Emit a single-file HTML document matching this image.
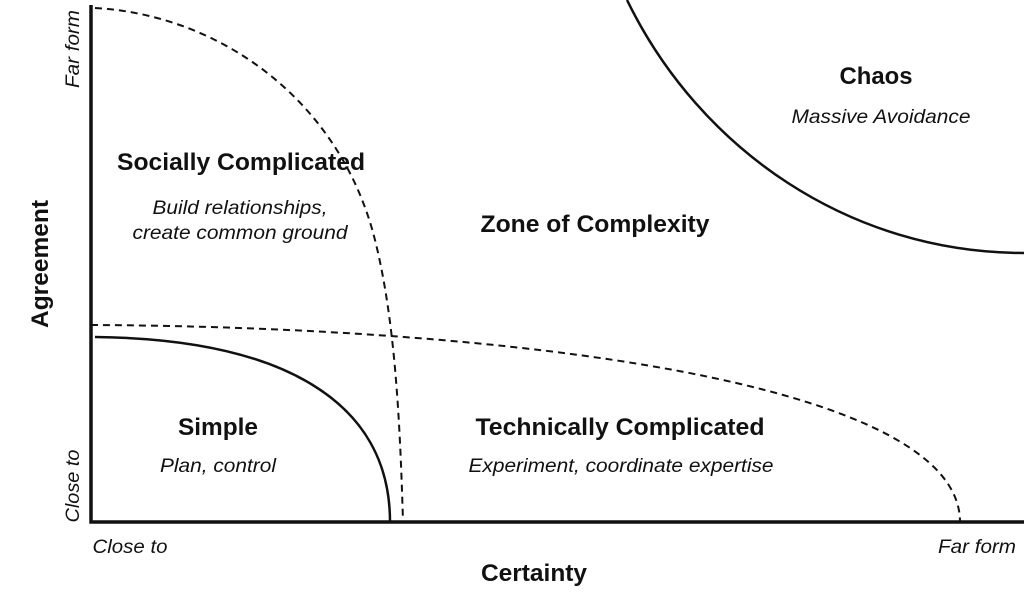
<!DOCTYPE html>
<html><head><meta charset="utf-8"><style>
html,body{margin:0;padding:0;background:#fff;}
svg{display:block;}
text{font-family:"Liberation Sans Narrow","Liberation Sans",sans-serif;fill:#111;}
.b{font-weight:bold;font-size:24px;}
.i{font-style:italic;font-size:19px;}
</style></head><body>
<svg width="1024" height="609" viewBox="0 0 1024 609" xmlns="http://www.w3.org/2000/svg">
<g fill="none" stroke="#111">
<path d="M627,0 C700,150 850,253 1024,253" stroke-width="2.5"/>
<path d="M95,337 C280,339 390,400 390,522" stroke-width="2.5"/>
<path d="M95,8 C220,15 340,100 375,240 C395,320 400,420 403,522" stroke-width="2" stroke-dasharray="7,5"/>
<path d="M91,325 C500,327 960,380 960,522" stroke-width="2" stroke-dasharray="7,5"/>
<path d="M91,5 L91,522 L1024,522" stroke-width="3.5"/>
</g>
<g text-anchor="middle" lengthAdjust="spacingAndGlyphs">
<text class="b" x="876" y="84" textLength="73" lengthAdjust="spacingAndGlyphs">Chaos</text>
<text class="i" x="881" y="123" textLength="179" lengthAdjust="spacingAndGlyphs">Massive Avoidance</text>
<text class="b" x="241" y="170" textLength="248" lengthAdjust="spacingAndGlyphs">Socially Complicated</text>
<text class="i" x="240" y="214" textLength="175" lengthAdjust="spacingAndGlyphs">Build relationships,</text>
<text class="i" x="240" y="239" textLength="215" lengthAdjust="spacingAndGlyphs">create common ground</text>
<text class="b" x="595" y="232" textLength="229" lengthAdjust="spacingAndGlyphs">Zone of Complexity</text>
<text class="b" x="218" y="435" textLength="80" lengthAdjust="spacingAndGlyphs">Simple</text>
<text class="i" x="218" y="472" textLength="116" lengthAdjust="spacingAndGlyphs">Plan, control</text>
<text class="b" x="620" y="435" textLength="289" lengthAdjust="spacingAndGlyphs">Technically Complicated</text>
<text class="i" x="621" y="472" textLength="305" lengthAdjust="spacingAndGlyphs">Experiment, coordinate expertise</text>
<text class="i" x="130" y="553" textLength="75" lengthAdjust="spacingAndGlyphs">Close to</text>
<text class="i" x="977" y="553" textLength="78" lengthAdjust="spacingAndGlyphs">Far form</text>
<text class="b" x="534" y="581" textLength="106" lengthAdjust="spacingAndGlyphs">Certainty</text>
<text class="b" transform="translate(48,264) rotate(-90)" textLength="128" lengthAdjust="spacingAndGlyphs">Agreement</text>
<text class="i" transform="translate(79,49) rotate(-90)" textLength="78" lengthAdjust="spacingAndGlyphs">Far form</text>
<text class="i" transform="translate(79,486) rotate(-90)" textLength="73" lengthAdjust="spacingAndGlyphs">Close to</text>
</g>
</svg>
</body></html>
